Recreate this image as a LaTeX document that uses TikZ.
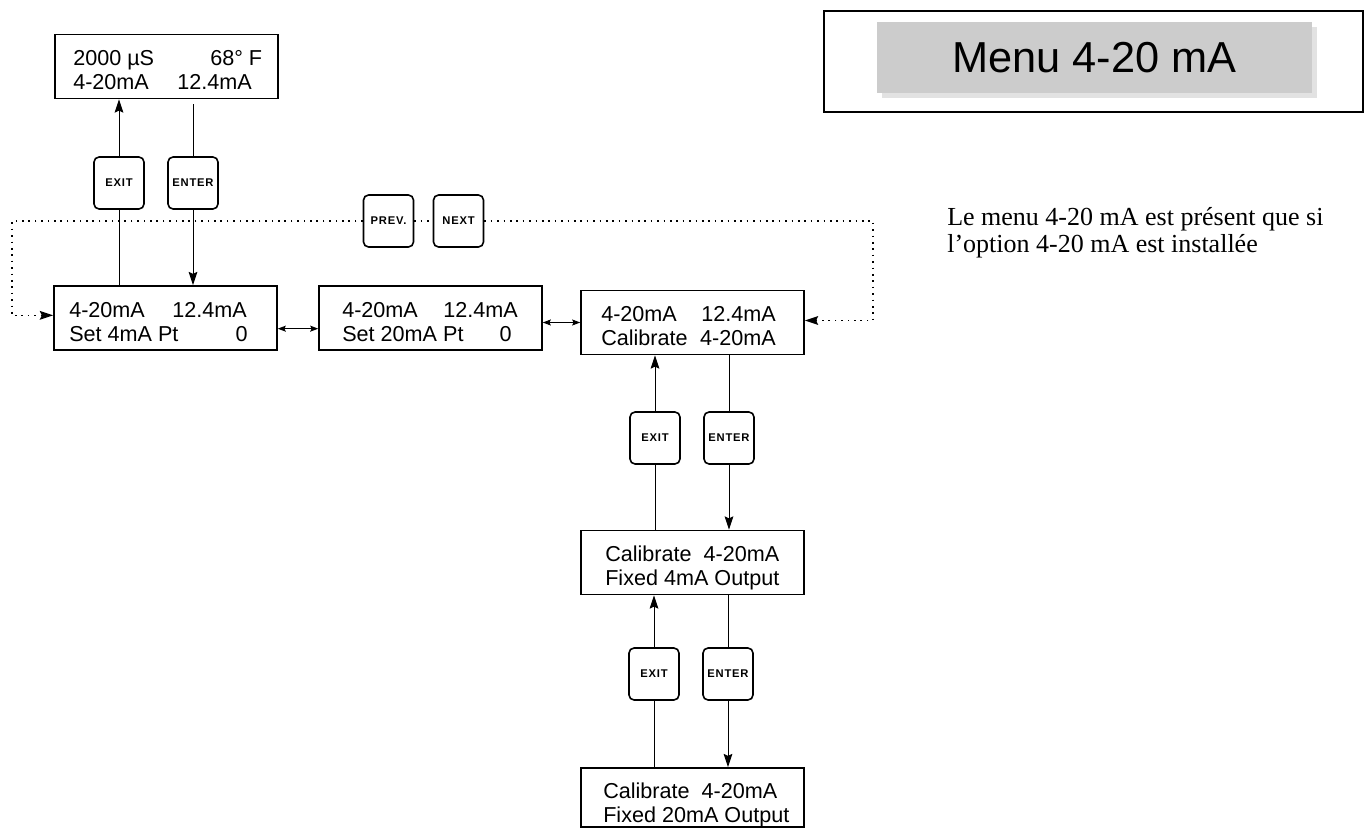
\documentclass[tikz,border=0pt]{standalone}
\usepackage{fontspec}
\setmainfont{Liberation Serif}
\newfontfamily\arialf{Liberation Sans}
\newfontfamily\btnf[LetterSpace=7]{Liberation Sans Bold}
\usetikzlibrary{arrows.meta,calc,backgrounds}
\definecolor{titlegrey}{HTML}{CCCCCC}
\definecolor{shadowgrey}{HTML}{E2E2E2}
\begin{document}
\begin{tikzpicture}[x=0.75pt,y=-0.75pt,
  lcd/.style={draw, line width=1.2pt, minimum width=167.25pt, minimum height=48pt, inner sep=0pt},
  lcdtxt/.style={inner sep=0pt, font=\arialf\fontsize{16.2}{19}\selectfont},
  btn/.style={draw, fill=white, line width=1.2pt, rounded corners=3.8pt, minimum width=37.5pt, minimum height=39pt, inner sep=0pt, font=\btnf\fontsize{8.4}{9}\selectfont},
  tip/.style={-{Stealth[length=10pt,width=6.5pt,inset=1.5pt]}},
  arr/.style={line width=0.75pt, tip},
  darr/.style={line width=0.75pt, {Stealth[length=6pt,width=4.5pt,inset=1pt]}-{Stealth[length=6pt,width=4.5pt,inset=1pt]}},
  dotline/.style={line width=1.2pt, dash pattern=on 1.2pt off 3.6pt},
  desctxt/.style={inner sep=0pt, anchor=base west, font=\fontsize{19.5}{22}\selectfont}
]
\useasboundingbox (0,0) rectangle (1365,828);

% LCD boxes
\node[lcd] (T) at (166.5,66.5) {};
\node[lcd] (A) at (165.5,318) {};
\node[lcd] (B) at (430.5,318) {};
\node[lcd] (C) at (692.5,322.5) {};
\node[lcd] (D) at (692.5,562.5) {};
\node[lcd, minimum height=44.25pt] (E) at (692.5,797.5) {};

% LCD texts
\node[lcdtxt, anchor=base west] (T1a) at (73,65) {2000 µS};
\node[lcdtxt, anchor=base west] (T1b) at (210,65) {68° F};
\node[lcdtxt, anchor=base west] (T2a) at (73,89) {4-20mA};
\node[lcdtxt, anchor=base west] (T2b) at (177,89) {12.4mA};

\node[lcdtxt, anchor=base west] (A1a) at (69,317) {4-20mA};
\node[lcdtxt, anchor=base west] (A1b) at (172,317) {12.4mA};
\node[lcdtxt, anchor=base west] (A2a) at (69,341) {Set 4mA Pt};
\node[lcdtxt, anchor=base east] (A2b) at (248,341) {0};

\node[lcdtxt, anchor=base west] (B1a) at (342,317) {4-20mA};
\node[lcdtxt, anchor=base west] (B1b) at (443,317) {12.4mA};
\node[lcdtxt, anchor=base west] (B2a) at (342,341) {Set 20mA Pt};
\node[lcdtxt, anchor=base east] (B2b) at (512,341) {0};

\node[lcdtxt, anchor=base west] (C1a) at (601,321) {4-20mA};
\node[lcdtxt, anchor=base east] (C1b) at (776,321) {12.4mA};
\node[lcdtxt, anchor=base west] (C2a) at (601,345) {Calibrate};
\node[lcdtxt, anchor=base east] (C2b) at (776,345) {4-20mA};

\node[lcdtxt, anchor=base west] (D1) at (605,561) {Calibrate\ \ 4-20mA};
\node[lcdtxt, anchor=base west] (D2) at (605,585) {Fixed 4mA Output};

\node[lcdtxt, anchor=base west] (E1) at (603,798) {Calibrate\ \ 4-20mA};
\node[lcdtxt, anchor=base west] (E2) at (603,822) {Fixed 20mA Output};

% buttons
\node[btn] (exitT) at (119,183) {EXIT};
\node[btn] (enterT) at (193,183) {ENTER};
\node[btn] (prev) at (388.5,221) {PREV.};
\node[btn] (next) at (458.5,221) {NEXT};
\node[btn] (exitC) at (655,438) {EXIT};
\node[btn] (enterC) at (729,438) {ENTER};
\node[btn] (exitD) at (654,674) {EXIT};
\node[btn] (enterD) at (728,674) {ENTER};

% loop corners
\coordinate (LT) at (12,221);
\coordinate (RT) at (873,221);

\begin{scope}[on background layer]
  \draw[arr] (exitT.center |- A.north) -- (exitT.center |- T.south);
  \draw[arr, shorten <=3.75pt] (enterT.center |- T.south) -- (enterT.center |- A.north);
  \draw[arr] (exitC.center |- D.north) -- (exitC.center |- C.south);
  \draw[arr] (enterC.center |- C.south) -- (enterC.center |- D.north);
  \draw[arr] (exitD.center |- E.north) -- (exitD.center |- D.south);
  \draw[arr] (enterD.center |- D.south) -- (enterD.center |- E.north);
  \draw[dotline] (prev.east) -- (next.west);
  \draw[dotline, tip] (prev.west) -- (LT) |- ([yshift=2pt]A.west);
  \draw[dotline, tip] (next.east) -- (RT) |- ([yshift=1.5pt]C.east);
\end{scope}

\draw[darr] ([yshift=-8pt]A.east) -- ([yshift=-8pt]B.west);
\draw[darr] (B.east |- C.west) -- (C.west);

% title
\node[draw, line width=1.2pt, minimum width=404.25pt, minimum height=75.75pt, inner sep=0pt] (titlebox) at (1093.5,61.5) {};
\node[fill=shadowgrey, minimum width=326.25pt, minimum height=53.25pt, inner sep=0pt] (titleshadow) at (1099,62) {};
\node[fill=titlegrey, minimum width=326.25pt, minimum height=53.25pt, inner sep=0pt, font=\arialf\fontsize{32.5}{36}\selectfont] (title) at (1094.5,57.5) {Menu 4-20 mA};

% description
\node[desctxt] (desc1) at (947,225) {Le menu 4-20 mA est présent que si};
\node[desctxt] (desc2) at (947,252) {l’option 4-20 mA est installée};
\end{tikzpicture}
\end{document}
